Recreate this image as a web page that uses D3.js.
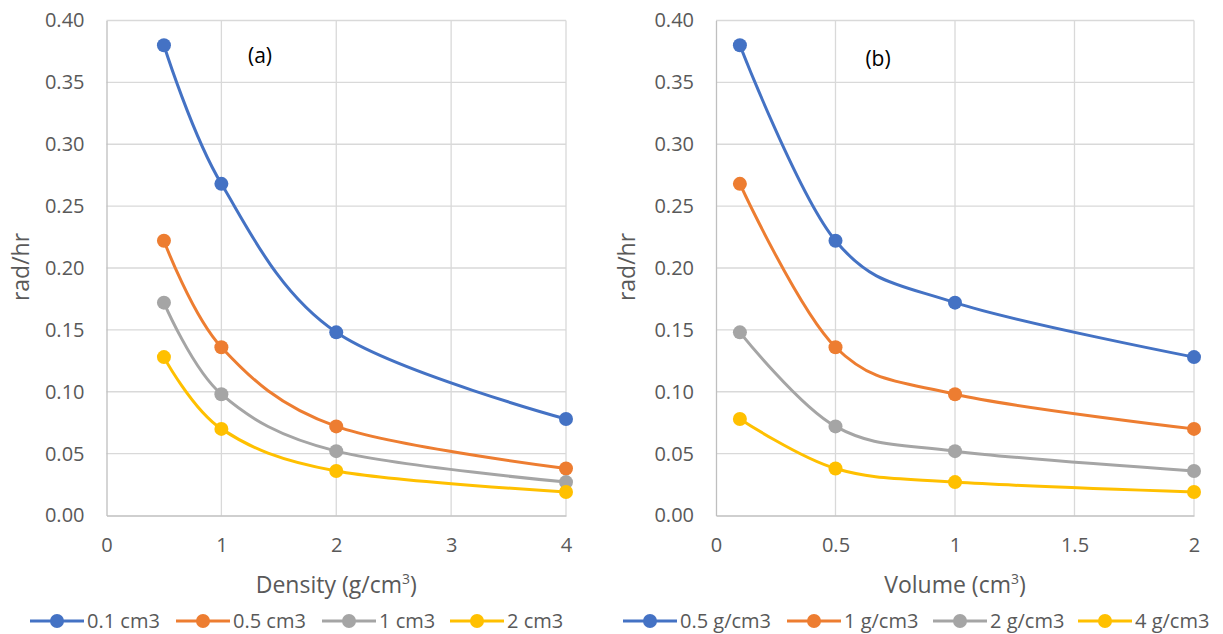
<!DOCTYPE html>
<html>
<head>
<meta charset="utf-8">
<script src="https://cdn.jsdelivr.net/npm/d3@7"></script>
<style>
  html, body { margin: 0; padding: 0; background: #fff; }
  svg { display: block; font-family: "Open Sans", "Noto Sans", sans-serif; }
</style>
</head>
<body>
<svg id="chart" width="1223" height="634"></svg>
<script>
// Panel (a): dose rate against density, one series per volume
const densityX = [0.5, 1, 2, 4];
const densitySeriesNames = ["0.1 cm3", "0.5 cm3", "1 cm3", "2 cm3"];
const dens_01cm3 = [0.380, 0.268, 0.148, 0.078];
const dens_05cm3 = [0.222, 0.136, 0.072, 0.038];
const dens_1cm3  = [0.172, 0.098, 0.052, 0.027];
const dens_2cm3  = [0.128, 0.070, 0.036, 0.019];
const densityTicks = [0, 1, 2, 3, 4];

// Panel (b): dose rate against volume, one series per density
const volumeX = [0.1, 0.5, 1, 2];
const volumeSeriesNames = ["0.5 g/cm3", "1 g/cm3", "2 g/cm3", "4 g/cm3"];
const vol_05g = [0.380, 0.222, 0.172, 0.128];
const vol_1g  = [0.268, 0.136, 0.098, 0.070];
const vol_2g  = [0.148, 0.072, 0.052, 0.036];
const vol_4g  = [0.078, 0.038, 0.027, 0.019];
const volumeTicks = [0, 0.5, 1, 1.5, 2];

const yTicks = [0, 0.05, 0.10, 0.15, 0.20, 0.25, 0.30, 0.35, 0.40];
const seriesColors = ["#4472C4", "#ED7D31", "#A5A5A5", "#FFC000"];

const svg = d3.select("#chart");
const textColor = "#595959";

function drawPanel(cfg) {
  const g = svg.append("g");
  const x = d3.scaleLinear().domain(cfg.xDomain).range([cfg.left, cfg.right]);
  const y = d3.scaleLinear().domain([0, 0.40]).range([cfg.bottom, cfg.top]);

  // horizontal gridlines
  g.append("g").selectAll("line").data(yTicks.slice(1)).join("line")
    .attr("x1", cfg.left).attr("x2", cfg.right)
    .attr("y1", d => y(d)).attr("y2", d => y(d))
    .attr("stroke", "#D9D9D9").attr("stroke-width", 1.3);
  // vertical gridlines
  g.append("g").selectAll("line").data(cfg.xTicks.slice(1)).join("line")
    .attr("x1", d => x(d)).attr("x2", d => x(d))
    .attr("y1", cfg.top).attr("y2", cfg.bottom)
    .attr("stroke", "#D9D9D9").attr("stroke-width", 1.3);

  // axes
  const yAxis = d3.axisLeft(y).tickValues(yTicks).tickFormat(d3.format(".2f")).tickSize(0).tickPadding(22);
  const ya = g.append("g").attr("transform", `translate(${cfg.left},0)`).call(yAxis);
  ya.select(".domain").attr("stroke", "#BFBFBF").attr("stroke-width", 1.3);
  ya.selectAll("text").attr("fill", textColor).style("font-size", "20px")
    .style("font-family", "'Open Sans', sans-serif");

  const xAxis = d3.axisBottom(x).tickValues(cfg.xTicks).tickFormat(d => String(d)).tickSize(0).tickPadding(22);
  const xa = g.append("g").attr("transform", `translate(0,${cfg.bottom})`).call(xAxis);
  xa.select(".domain").attr("stroke", "#BFBFBF").attr("stroke-width", 1.3);
  xa.selectAll("text").attr("fill", textColor).style("font-size", "20px")
    .style("font-family", "'Open Sans', sans-serif");

  // axis titles
  const xt = g.append("text")
    .attr("x", (cfg.left + cfg.right) / 2).attr("y", 593)
    .attr("text-anchor", "middle").attr("fill", textColor).style("font-size", "23px");
  xt.append("tspan").text(cfg.xTitle);
  xt.append("tspan").text("3").attr("dy", -9).style("font-size", "14px");
  xt.append("tspan").text(")").attr("dy", 9);

  g.append("text")
    .attr("transform", `translate(${cfg.yTitleX},267) rotate(-90)`)
    .attr("text-anchor", "middle").attr("dominant-baseline", "central")
    .attr("fill", textColor).style("font-size", "23px").text("rad/hr");

  // panel label
  g.append("text").attr("x", cfg.labelX).attr("y", cfg.labelY)
    .attr("text-anchor", "middle").attr("dominant-baseline", "central")
    .attr("fill", "#000").style("font-size", "21px").text(cfg.label);

  // series
  const line = d3.line().x(d => x(d[0])).y(d => y(d[1])).curve(d3.curveCatmullRom.alpha(0));
  cfg.series.forEach((vals, i) => {
    const pts = cfg.xs.map((xv, j) => [xv, vals[j]]);
    g.append("path").datum(pts).attr("d", line)
      .attr("fill", "none").attr("stroke", seriesColors[i]).attr("stroke-width", 3)
      .attr("stroke-linecap", "round");
    g.append("g").selectAll("circle").data(pts).join("circle")
      .attr("cx", d => x(d[0])).attr("cy", d => y(d[1])).attr("r", 7)
      .attr("fill", seriesColors[i]);
  });

  // legend
  const lg = g.append("g");
  cfg.names.forEach((name, i) => {
    const x0 = cfg.legendX[i];
    const ly = 621;
    lg.append("line").attr("x1", x0).attr("x2", x0 + 54).attr("y1", ly).attr("y2", ly)
      .attr("stroke", seriesColors[i]).attr("stroke-width", 3);
    lg.append("circle").attr("cx", x0 + 27).attr("cy", ly).attr("r", 7).attr("fill", seriesColors[i]);
    lg.append("text").attr("x", x0 + 57).attr("y", 627.5)
      .attr("fill", textColor).style("font-size", "20px").text(name);
  });
}

drawPanel({
  left: 106.5, right: 566, top: 20.5, bottom: 515.5,
  xDomain: [0, 4], xTicks: densityTicks, xs: densityX,
  series: [dens_01cm3, dens_05cm3, dens_1cm3, dens_2cm3],
  names: densitySeriesNames, legendX: [30, 176, 322, 450],
  xTitle: "Density (g/cm", yTitleX: 20, label: "(a)", labelX: 260, labelY: 55
});

drawPanel({
  left: 716, right: 1194, top: 20.5, bottom: 515.5,
  xDomain: [0, 2], xTicks: volumeTicks, xs: volumeX,
  series: [vol_05g, vol_1g, vol_2g, vol_4g],
  names: volumeSeriesNames, legendX: [623, 787, 933, 1078],
  xTitle: "Volume (cm", yTitleX: 626, label: "(b)", labelX: 878, labelY: 58
});
</script>
</body>
</html>
